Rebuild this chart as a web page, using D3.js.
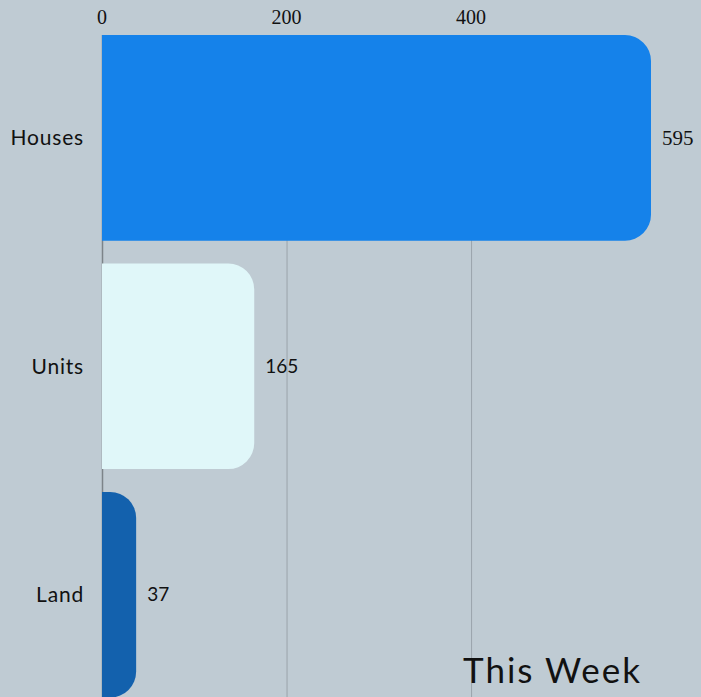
<!DOCTYPE html>
<html>
<head>
<meta charset="utf-8">
<script src="https://cdn.jsdelivr.net/npm/d3@7"></script>
<style>
  html, body { margin: 0; padding: 0; background: #bfcbd3; }
  #chart { width: 701px; height: 697px; overflow: hidden; }
</style>
</head>
<body>
<div id="chart"></div>
<script>
// data
const categories = ["Houses", "Units", "Land"];
const values = [595, 165, 37];
const colors = ["#1582ea", "#e0f7f9", "#1361ad"];
const tickValues = [0, 200, 400];

const width = 701;
const height = 697;
const margin = { top: 35, left: 102, right: 50 };
const radius = 26;

const svg = d3.select("#chart").append("svg")
  .attr("width", width)
  .attr("height", height);

// scales
const xScale = d3.scaleLinear()
  .domain([0, d3.max(values)])
  .range([margin.left, 651]);

const yScale = d3.scaleBand()
  .domain(categories)
  .range([23.6, 709])
  .paddingInner(0.1)
  .paddingOuter(0.05);

// grid
svg.append("g")
  .selectAll("line")
  .data(tickValues)
  .join("line")
  .attr("x1", d => xScale(d) + 0.5)
  .attr("x2", d => xScale(d) + 0.5)
  .attr("y1", margin.top)
  .attr("y2", height)
  .attr("stroke", d => d === 0 ? "#7c8489" : "#9aa4ab")
  .attr("stroke-width", d => d === 0 ? 1.5 : 1);

// top axis labels
svg.append("g")
  .selectAll("text")
  .data(tickValues)
  .join("text")
  .attr("x", d => xScale(d))
  .attr("y", 24)
  .attr("text-anchor", "middle")
  .attr("font-family", "Liberation Serif, serif")
  .attr("font-size", 20)
  .attr("fill", "#111")
  .text(d => d);

// bars with rounded right end
const barPath = (d, i) => {
  const x0 = xScale(0);
  const x1 = xScale(d);
  const y0 = yScale(categories[i]);
  const h = yScale.bandwidth();
  const r = Math.min(radius, x1 - x0);
  return `M${x0},${y0}H${x1 - r}A${r},${r} 0 0 1 ${x1},${y0 + r}` +
    `V${y0 + h - r}A${r},${r} 0 0 1 ${x1 - r},${y0 + h}H${x0}Z`;
};

svg.append("g")
  .selectAll("path")
  .data(values)
  .join("path")
  .attr("d", barPath)
  .attr("fill", (d, i) => colors[i]);

// category labels
svg.append("g")
  .selectAll("text")
  .data(categories)
  .join("text")
  .attr("x", margin.left - 18)
  .attr("y", d => yScale(d) + yScale.bandwidth() / 2)
  .attr("dy", "0.35em")
  .attr("text-anchor", "end")
  .attr("font-family", "Lato, sans-serif")
  .attr("font-size", 21)
  .attr("letter-spacing", 0.8)
  .attr("fill", "#111")
  .text(d => d);

// value labels
svg.append("g")
  .selectAll("text")
  .data(values)
  .join("text")
  .attr("x", d => xScale(d) + 11)
  .attr("y", (d, i) => yScale(categories[i]) + yScale.bandwidth() / 2)
  .attr("dy", "0.35em")
  .attr("font-family", (d, i) => i === 0 ? "Liberation Serif, serif" : "Lato, sans-serif")
  .attr("font-size", (d, i) => i === 0 ? 21 : 19)
  .attr("fill", "#111")
  .text(d => d);

// title
svg.append("text")
  .attr("x", 642)
  .attr("y", 683)
  .attr("text-anchor", "end")
  .attr("font-family", "Lato, sans-serif")
  .attr("font-size", 35)
  .attr("letter-spacing", 2)
  .attr("fill", "#111")
  .text("This Week");
</script>
</body>
</html>
